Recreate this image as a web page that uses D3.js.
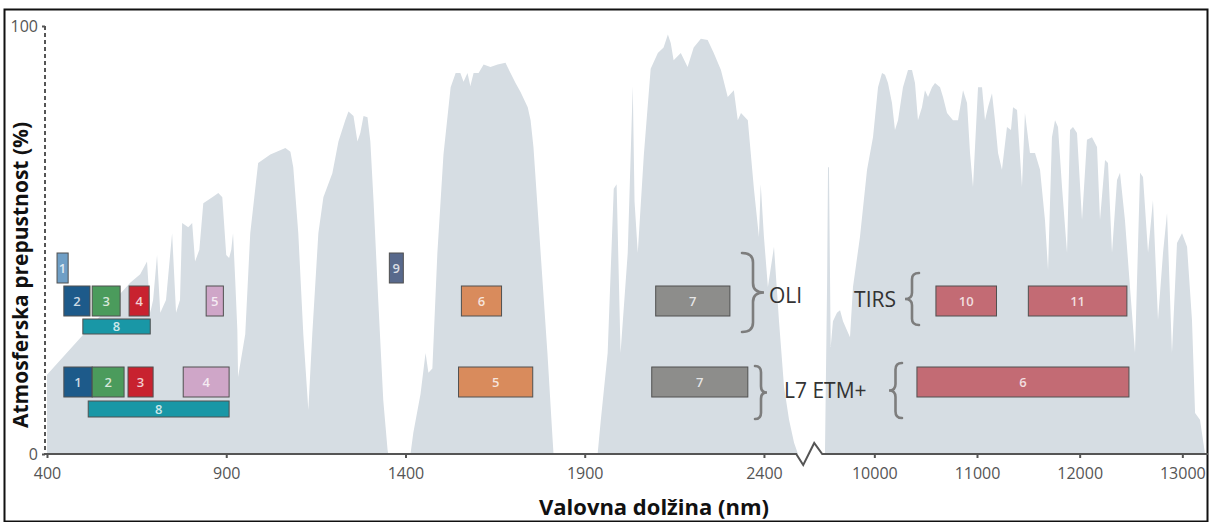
<!DOCTYPE html>
<html><head><meta charset="utf-8">
<script src="https://cdn.jsdelivr.net/npm/d3@7"></script>
<style>body{margin:0;background:#fff}svg{display:block}</style>
</head><body><svg id="c" width="1211" height="522"></svg>
<script>
// ---- Atmospheric transmission (%), [wavelength nm, transmission %] ----
const segA = [[400,0],[400,18.5],[632,40],[660,42],[679,45],[688,33],[696,36],[707,46.5],[716,33],[732,36],[749,51.6],[760,33],[771,36],[777,54],[794,53],[805,54],[813,45],[825,47.7],[836,58.6],[861,60],[878,61],[889,60],[900,46.5],[908,45.8],[914,47.7],[919,51.6],[925,40.7],[931,29],[933,18],[953,28],[967,51.6],[989,68],[1023,70],[1065,71.5],[1079,70.6],[1087,67],[1101,51.6],[1115,28],[1129,10.3],[1140,28],[1157,51.6],[1171,60],[1196,65.6],[1213,73],[1232,78],[1241,80],[1255,79],[1266,73],[1274,75],[1283,79],[1294,78.7],[1302,73],[1311,59],[1324,36],[1338,12.6],[1350,1],[1352,0]];
const segB = [[1414,0],[1422,5],[1442,14],[1456,23.6],[1464,19],[1475,20],[1489,47],[1506,70],[1526,85.7],[1540,89],[1553,89],[1562,87],[1573,89],[1581,86],[1590,89],[1604,89],[1618,91],[1637,90.4],[1657,91],[1679,91.4],[1693,89],[1707,86.7],[1721,84.6],[1741,81],[1749,78],[1757,71.7],[1777,47],[1796,23.6],[1810,4],[1813,0]];
const segC = [[1936,0],[1945,8],[1964,23.6],[1981,62],[1989,63],[2000,23.6],[2020,47],[2034,86],[2039,59],[2048,47],[2065,70],[2084,90],[2104,93.7],[2120,95],[2132,98],[2140,96],[2148,92],[2168,93.7],[2187,90.4],[2204,95],[2224,97],[2243,96.7],[2260,93.7],[2280,89.7],[2299,83.4],[2316,85],[2327,78],[2336,79.7],[2355,78],[2372,62],[2386,50.7],[2391,63],[2400,50.7],[2411,39],[2428,48.4],[2442,31],[2456,15.7],[2470,8],[2484,2.6],[2495,0]];
const segD = [[9519,0],[9540,40],[9549,67],[9558,67],[9575,25],[9597,31],[9636,33],[9666,33.6],[9695,31],[9763,27.3],[9792,39],[9860,50.7],[9929,66.4],[9987,74],[10036,85.7],[10075,89],[10104,88.6],[10133,86.7],[10172,82],[10201,75.7],[10231,78],[10279,85.7],[10328,89.7],[10367,89.7],[10396,86.7],[10425,78],[10464,81],[10493,85],[10523,83.4],[10562,85.7],[10591,86.7],[10640,85.7],[10669,83.4],[10708,79.7],[10766,78],[10815,78],[10864,85],[10903,82],[10932,70.3],[10961,62.4],[11010,85.7],[11049,85.7],[11078,78],[11107,81],[11146,84.3],[11175,78],[11205,70.3],[11243,66.4],[11292,76.4],[11331,75.7],[11351,81],[11390,80.4],[11438,62.4],[11467,79.7],[11516,70.3],[11565,70.3],[11614,66.4],[11662,54.7],[11692,43],[11730,74],[11760,78],[11789,76.4],[11828,62.4],[11877,47],[11906,75.7],[11935,76.4],[11974,75],[12023,54.7],[12071,73.4],[12120,74],[12169,71.7],[12198,54.7],[12247,68.7],[12276,68],[12315,47],[12364,64],[12393,65.7],[12441,54.7],[12490,39],[12539,23.6],[12588,65.7],[12617,64.7],[12666,47],[12714,59.3],[12763,31.3],[12812,47],[12851,56.3],[12899,23.6],[12948,49.3],[12997,51.6],[13046,48.4],[13094,31.3],[13124,9.6],[13172,8],[13221,0]];

const xTicks = [400,900,1400,1900,2400,10000,11000,12000,13000];
const yTicks = [0,100];

// ---- Landsat 8 (OLI / TIRS) bands ----
const oliLabels = ["1","2","3","4","5","8","9","6","7","10","11"];
const oliLo     = [428,447,526,629,844,500,1355,1556,2098,10600,11500];
const oliHi     = [459,520,604,685,892,688,1394,1668,2305,11190,12460];
const oliTier   = [0,1,1,1,1,2,0,1,1,1,1];
// ---- Landsat 7 ETM+ bands ----
const etmLabels = ["1","2","3","4","8","5","7","6"];
const etmLo     = [447,526,626,780,515,1548,2087,10415];
const etmHi     = [526,615,696,908,908,1755,2355,12480];
const etmTier   = [1,1,1,1,2,1,1,1];

const oliColors = {"1":"#6f9fc6","2":"#1d5a8a","3":"#4b9b5c","4":"#c8222f","5":"#cfa6c8","8":"#1997a6","9":"#58698c","6":"#d98b5c","7":"#8d8d8b","10":"#c36b74","11":"#c36b74"};
const etmColors = {"1":"#1d5a8a","2":"#4b9b5c","3":"#c8222f","4":"#cfa6c8","8":"#1997a6","5":"#d98b5c","7":"#8d8d8b","6":"#c36b74"};

const svg = d3.select("#c");
const x = d3.scaleLinear().domain([400,2500,9500,13250]).range([47,799.8,823,1208]);
const y = d3.scaleLinear().domain([0,100]).range([454,26]);

// frame
svg.append("rect").attr("x",4.5).attr("y",9.5).attr("width",1203).attr("height",512)
  .attr("fill","#fff").attr("stroke","#111").attr("stroke-width",2);

// spectrum
const area = d3.area().x(d=>x(d[0])).y0(y(0)).y1(d=>y(d[1]));
[segA,segB,segC,segD].forEach(s=>{
  svg.append("path").datum(s).attr("d",area).attr("fill","#d6dde3");
});

// bands
const oliTiers = [{top:253,h:30},{top:286,h:30},{top:319,h:15}];
const etmTiers = [{top:253,h:30},{top:367,h:30},{top:401,h:16}];
function drawBands(labels,lo,hi,tier,colors,tiers){
  const g = svg.append("g");
  labels.forEach((lab,i)=>{
    const t = tiers[tier[i]];
    const x0 = x(lo[i]), x1 = x(hi[i]);
    g.append("rect").attr("x",x0).attr("y",t.top).attr("width",x1-x0).attr("height",t.h)
      .attr("fill",colors[lab]).attr("stroke","#505050").attr("stroke-width",1);
    g.append("text").attr("x",(x0+x1)/2).attr("y",t.top+t.h/2).attr("dy","0.36em")
      .attr("text-anchor","middle").attr("font-family","Open Sans, sans-serif")
      .attr("font-size",13).attr("font-weight",600).attr("fill","#fff").attr("fill-opacity",0.78)
      .text(lab);
  });
}
drawBands(oliLabels,oliLo,oliHi,oliTier,oliColors,oliTiers);
drawBands(etmLabels,etmLo,etmHi,etmTier,etmColors,etmTiers);

// braces
function brace(x0,top,bot,w,dir){ // dir 1 = "}" , -1 = "{"
  const mid=(top+bot)/2, q=(bot-top)*0.12, xm=x0+dir*w/2, xt=x0+dir*w;
  return `M${x0},${top} Q${xm},${top} ${xm},${top+q} L${xm},${mid-q} Q${xm},${mid} ${xt},${mid} Q${xm},${mid} ${xm},${mid+q} L${xm},${bot-q} Q${xm},${bot} ${x0},${bot}`;
}
const braceG = svg.append("g").attr("fill","none").attr("stroke","#7d7d7d").attr("stroke-width",2.6).attr("stroke-linecap","round");
braceG.append("path").attr("d",brace(742,253,332,22,1));
braceG.append("path").attr("d",brace(755,366,419,12,1));
braceG.append("path").attr("d",brace(919,273,325,14,-1));
braceG.append("path").attr("d",brace(902,363,418,13,-1));

const lbl = (tx,ty,anchor,s)=>svg.append("text").attr("x",tx).attr("y",ty).attr("text-anchor",anchor)
  .attr("font-family","Open Sans, sans-serif").attr("font-size",21).attr("fill","#333").text(s);
lbl(769,303,"start","OLI");
lbl(784,398,"start","L7 ETM+");
lbl(896,307,"end","TIRS");

// y axis
const yAxis = svg.append("g").attr("transform",`translate(${x(400)-2},0)`)
  .call(d3.axisLeft(y).tickValues(yTicks).tickSize(3).tickPadding(4));
yAxis.select(".domain").remove();
yAxis.selectAll("text").attr("font-family","Open Sans, sans-serif").attr("font-size",16).attr("fill","#555");
yAxis.selectAll("line").attr("stroke","#555").attr("stroke-width",2);
yAxis.append("line").attr("x1",0).attr("x2",0).attr("y1",y(100)).attr("y2",y(0))
  .attr("stroke","#555").attr("stroke-width",2).attr("stroke-dasharray","4,3");

// x axis
const xAxis = svg.append("g").attr("transform",`translate(0,${y(0)})`)
  .call(d3.axisBottom(x).tickValues(xTicks).tickSize(4).tickPadding(10).tickFormat(d3.format("d")));
xAxis.select(".domain").remove();
xAxis.selectAll("text").attr("font-family","Open Sans, sans-serif").attr("font-size",16).attr("fill","#555");
xAxis.selectAll("line").attr("stroke","#555").attr("stroke-width",2);
const bx = x(2490);
xAxis.append("path").attr("fill","none").attr("stroke","#555").attr("stroke-width",2)
  .attr("d",`M${x(400)-2},0 L${bx},0 L${bx+7},11 L${bx+18},-11 L${bx+26},0 L${x(13250)},0`);

// titles
svg.append("text").attr("transform","translate(28,275) rotate(-90)").attr("text-anchor","middle")
  .attr("font-family","Open Sans, sans-serif").attr("font-weight",700).attr("font-size",21).attr("fill","#111")
  .text("Atmosferska prepustnost (%)");
svg.append("text").attr("x",654).attr("y",515).attr("text-anchor","middle")
  .attr("font-family","Open Sans, sans-serif").attr("font-weight",700).attr("font-size",22).attr("fill","#111")
  .text("Valovna dolžina (nm)");
</script></body></html>
